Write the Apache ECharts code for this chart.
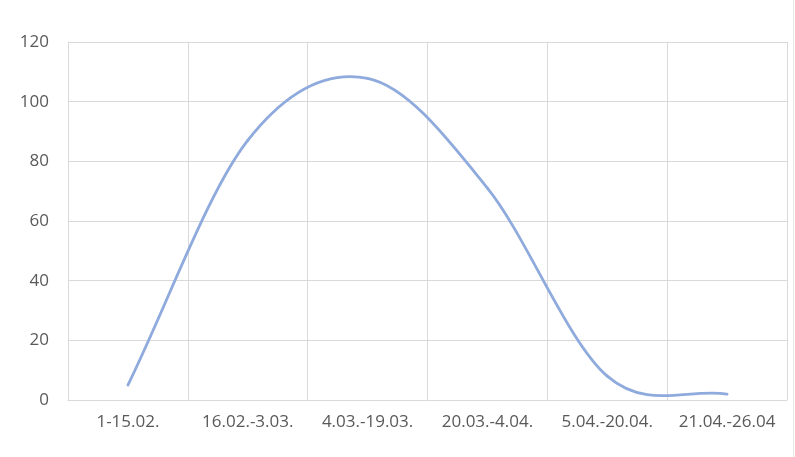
<!DOCTYPE html>
<html><head><meta charset="utf-8">
<script src="https://cdn.jsdelivr.net/npm/echarts@6/dist/echarts.min.js"></script>
<style>html,body{margin:0;padding:0;background:#fff}#c{width:795px;height:457px}</style>
</head><body><div id="c"></div>
<script>
const categories = ["1-15.02.", "16.02.-3.03.", "4.03.-19.03.", "20.03.-4.04.", "5.04.-20.04.", "21.04.-26.04"];
const values = [5, 87, 107.8, 71, 8, 2];
const yTicks = {min: 0, max: 120, interval: 20};

const chart = echarts.init(document.getElementById('c'), null, {renderer: 'canvas'});
const grid = '#d9d9d9';
const txt = '#595959';
const font = '"Open Sans", sans-serif';
const lineColor = '#8FAADC';

// Smoothed line (Excel-like Catmull-Rom Bezier) drawn segment by segment
// through the axis scales (api.coord).
function renderSeg(params, api) {
  const i = params.dataIndex;
  const n = values.length;
  if (i >= n - 1) return null;
  const P = j => api.coord([j, values[j]]);
  const p1 = P(i), p2 = P(i + 1);
  const p0 = i > 0 ? P(i - 1) : [2 * p1[0] - p2[0], 2 * p1[1] - p2[1]];
  const p3 = i + 2 < n ? P(i + 2) : [2 * p2[0] - p1[0], 2 * p2[1] - p1[1]];
  const c1 = [p1[0] + (p2[0] - p0[0]) / 6, p1[1] + (p2[1] - p0[1]) / 6];
  const c2 = [p2[0] - (p3[0] - p1[0]) / 6, p2[1] - (p3[1] - p1[1]) / 6];
  return {
    type: 'bezierCurve',
    shape: {x1: p1[0], y1: p1[1], cpx1: c1[0], cpy1: c1[1], cpx2: c2[0], cpy2: c2[1], x2: p2[0], y2: p2[1]},
    style: {stroke: lineColor, lineWidth: 2.8, fill: null, lineCap: 'round'}
  };
}

chart.setOption({
  animation: false,
  backgroundColor: '#fff',
  grid: {left: 68, right: 8, top: 42, bottom: 57},
  xAxis: {
    type: 'category', data: categories, boundaryGap: true,
    axisLine: {show: true, lineStyle: {color: grid, width: 1}},
    axisTick: {show: false},
    splitLine: {show: true, lineStyle: {color: grid, width: 1}},
    axisLabel: {color: txt, fontSize: 17, fontFamily: font, margin: 14, interval: 0}
  },
  yAxis: {
    type: 'value', min: yTicks.min, max: yTicks.max, interval: yTicks.interval,
    axisLine: {show: true, lineStyle: {color: grid, width: 1}},
    axisTick: {show: false},
    splitLine: {show: true, lineStyle: {color: grid, width: 1}},
    axisLabel: {color: txt, fontSize: 17, fontFamily: font, margin: 19}
  },
  graphic: [{
    type: 'line', shape: {x1: 793.5, y1: 0, x2: 793.5, y2: 457},
    style: {stroke: '#e6e6e6', lineWidth: 1}
  }],
  series: [{
    type: 'custom', renderItem: renderSeg,
    data: values.map((v, i) => [i, v]),
    encode: {x: 0, y: 1}
  }]
});
</script></body></html>
